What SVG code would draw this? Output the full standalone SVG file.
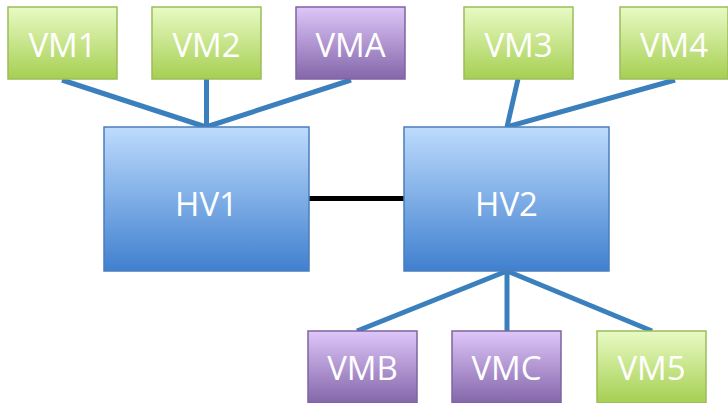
<svg xmlns="http://www.w3.org/2000/svg" width="728" height="403" viewBox="0 0 728 403">
  <defs>
    <linearGradient id="gGreen" x1="0" y1="0" x2="0" y2="1">
      <stop offset="0" stop-color="#e8fac4"/>
      <stop offset="1" stop-color="#a6cf52"/>
    </linearGradient>
    <linearGradient id="gPurple" x1="0" y1="0" x2="0" y2="1">
      <stop offset="0" stop-color="#dec6f8"/>
      <stop offset="1" stop-color="#8466aa"/>
    </linearGradient>
    <linearGradient id="gBlue" x1="0" y1="0" x2="0" y2="1">
      <stop offset="0" stop-color="#bddbfd"/>
      <stop offset="1" stop-color="#4080cf"/>
    </linearGradient>
  </defs>
  <style>
    .green { fill: url(#gGreen); stroke: #9cbd5a; stroke-width: 1.5; }
    .purple { fill: url(#gPurple); stroke: #7f63a1; stroke-width: 1.5; }
    .blue { fill: url(#gBlue); stroke: #4a7ebb; stroke-width: 1.5; }
    .lbl { font-family: "Open Sans", "DejaVu Sans", sans-serif; font-size: 33px; fill: #ffffff; text-anchor: middle; }
    .link { stroke: #3b80bd; stroke-width: 5; fill: none; }
    .hvlink { stroke: #000000; stroke-width: 5; fill: none; }
  </style>
  <g id="connectors">
    <line class="link" x1="62" y1="80" x2="206" y2="127"/>
    <line class="link" x1="206.5" y1="79" x2="206.5" y2="127"/>
    <line class="link" x1="351" y1="80" x2="206" y2="127"/>
    <line class="link" x1="518" y1="79" x2="507" y2="127"/>
    <line class="link" x1="675" y1="80" x2="507" y2="127"/>
    <line class="link" x1="507" y1="271" x2="357" y2="331"/>
    <line class="link" x1="507" y1="271" x2="507" y2="331"/>
    <line class="link" x1="507" y1="271" x2="652" y2="331"/>
    <line class="hvlink" x1="309" y1="198.5" x2="404" y2="198.5"/>
  </g>
  <g id="VM1"><rect class="green" x="8" y="7" width="109" height="72"/><text class="lbl" x="62.5" y="57">VM1</text></g>
  <g id="VM2"><rect class="green" x="152" y="7" width="109" height="72"/><text class="lbl" x="206.5" y="57">VM2</text></g>
  <g id="VMA"><rect class="purple" x="296" y="7" width="109" height="72"/><text class="lbl" x="350.5" y="57">VMA</text></g>
  <g id="VM3"><rect class="green" x="464" y="7" width="109" height="72"/><text class="lbl" x="518.5" y="57">VM3</text></g>
  <g id="VM4"><rect class="green" x="620" y="7" width="108" height="72"/><text class="lbl" x="674" y="57">VM4</text></g>
  <g id="HV1"><rect class="blue" x="104" y="127" width="205" height="144"/><text class="lbl" x="206.5" y="216">HV1</text></g>
  <g id="HV2"><rect class="blue" x="404" y="127" width="205" height="144"/><text class="lbl" x="506.5" y="216">HV2</text></g>
  <g id="VMB"><rect class="purple" x="308" y="331" width="109" height="72"/><text class="lbl" x="362.5" y="380">VMB</text></g>
  <g id="VMC"><rect class="purple" x="452" y="331" width="109" height="72"/><text class="lbl" x="506.5" y="380">VMC</text></g>
  <g id="VM5"><rect class="green" x="597" y="331" width="109" height="72"/><text class="lbl" x="651.5" y="380">VM5</text></g>
</svg>
